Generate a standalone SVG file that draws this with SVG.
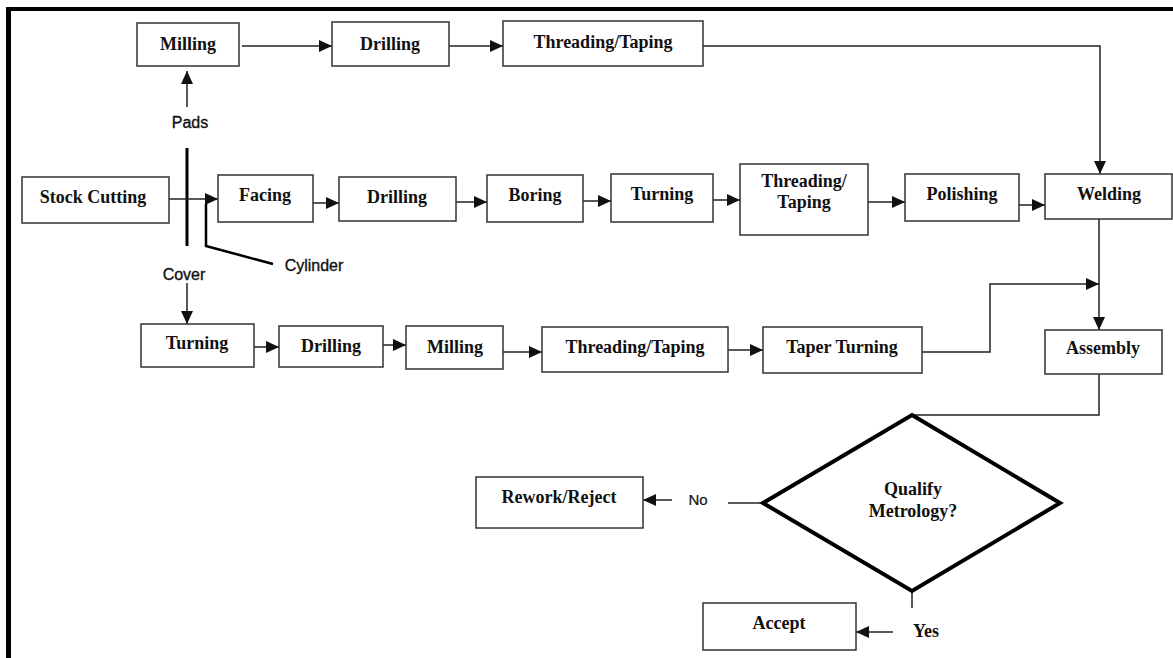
<svg xmlns="http://www.w3.org/2000/svg" width="1173" height="658" viewBox="0 0 1173 658">
<defs>
<marker id="ah" markerUnits="userSpaceOnUse" markerWidth="14" markerHeight="12" refX="13" refY="6" orient="auto">
<path d="M0,0 L13,6 L0,12 z" fill="#111"/>
</marker>
<style>
.box{fill:#fff;stroke:#333;stroke-width:1.5}
.t{font-family:"Liberation Serif","Times New Roman",serif;font-weight:bold;font-size:18px;fill:#111;text-anchor:middle}
.s{font-family:"Liberation Sans",Arial,sans-serif;font-size:16px;fill:#111;stroke:#111;stroke-width:0.35;text-anchor:middle}
.c{fill:none;stroke:#222;stroke-width:1.5}
.a{fill:none;stroke:#222;stroke-width:1.5;marker-end:url(#ah)}
</style>
</defs>
<rect width="1173" height="658" fill="#fff"/>
<g id="frame">
<rect x="6" y="7" width="1167" height="4" fill="#000"/>
<rect x="6" y="7" width="5" height="651" fill="#000"/>
</g>
<g id="connectors">
<line class="a" x1="242" y1="46" x2="332" y2="46"/>
<line class="a" x1="449" y1="46" x2="503" y2="46"/>
<polyline class="a" points="703,46 1100,46 1100,174"/>
<line class="a" x1="187" y1="107" x2="187" y2="71"/>
<line x1="187" y1="148" x2="187" y2="246" stroke="#000" stroke-width="3"/>
<line class="a" x1="169" y1="199" x2="218" y2="199"/>
<polyline points="273,264 206,246 206,204" fill="none" stroke="#000" stroke-width="2.5"/>
<line class="a" x1="187" y1="283" x2="187" y2="324"/>
<line class="a" x1="313" y1="203" x2="339" y2="203"/>
<line class="a" x1="456" y1="202" x2="487" y2="202"/>
<line class="a" x1="583" y1="201" x2="611" y2="201"/>
<line class="a" x1="713" y1="200" x2="740" y2="200"/>
<line class="a" x1="868" y1="202" x2="905" y2="202"/>
<line class="a" x1="1019" y1="205" x2="1045" y2="205"/>
<line class="a" x1="1099" y1="219" x2="1099" y2="330"/>
<line class="a" x1="254" y1="347" x2="279" y2="347"/>
<line class="a" x1="383" y1="345" x2="406" y2="345"/>
<line class="a" x1="503" y1="352" x2="542" y2="352"/>
<line class="a" x1="728" y1="350" x2="763" y2="350"/>
<polyline class="a" points="922,352 990,352 990,284 1099,284"/>
<polyline class="c" points="1099,374 1099,415 912,415"/>
<line class="c" x1="763" y1="503" x2="728" y2="503"/>
<line class="a" x1="672" y1="500" x2="643" y2="500"/>
<line class="c" x1="912" y1="591" x2="912" y2="608"/>
<line class="a" x1="893" y1="632" x2="856" y2="632"/>
</g>
<g id="labels">
<text class="s" x="190" y="128">Pads</text>
<text class="s" x="184" y="280">Cover</text>
<text class="s" x="314" y="271">Cylinder</text>
<text class="s" x="698" y="505" style="font-size:15px;stroke-width:0.2">No</text>
<text class="t" x="926" y="637">Yes</text>
</g>
<g id="milling-top"><rect class="box" x="137" y="23" width="102" height="43"/><text class="t" x="188" y="50">Milling</text></g>
<g id="drilling-top"><rect class="box" x="332" y="22" width="117" height="44"/><text class="t" x="390" y="50">Drilling</text></g>
<g id="threading-top"><rect class="box" x="503" y="21" width="200" height="45"/><text class="t" x="603" y="48">Threading/Taping</text></g>
<g id="stock-cutting"><rect class="box" x="22" y="177" width="147" height="46"/><text class="t" x="93" y="203">Stock Cutting</text></g>
<g id="facing"><rect class="box" x="218" y="175" width="95" height="47"/><text class="t" x="265" y="201">Facing</text></g>
<g id="drilling-mid"><rect class="box" x="339" y="177" width="117" height="44"/><text class="t" x="397" y="203">Drilling</text></g>
<g id="boring"><rect class="box" x="487" y="175" width="96" height="47"/><text class="t" x="535" y="201">Boring</text></g>
<g id="turning-mid"><rect class="box" x="611" y="174" width="102" height="48"/><text class="t" x="662" y="200">Turning</text></g>
<g id="threading-mid"><rect class="box" x="740" y="164" width="128" height="71"/><text class="t" x="804" y="187">Threading/</text><text class="t" x="804" y="208">Taping</text></g>
<g id="polishing"><rect class="box" x="905" y="174" width="114" height="47"/><text class="t" x="962" y="200">Polishing</text></g>
<g id="welding"><rect class="box" x="1045" y="174" width="127" height="45"/><text class="t" x="1109" y="200">Welding</text></g>
<g id="turning-bot"><rect class="box" x="141" y="324" width="113" height="43"/><text class="t" x="197" y="349">Turning</text></g>
<g id="drilling-bot"><rect class="box" x="279" y="326" width="104" height="41"/><text class="t" x="331" y="352">Drilling</text></g>
<g id="milling-bot"><rect class="box" x="406" y="326" width="97" height="43"/><text class="t" x="455" y="353">Milling</text></g>
<g id="threading-bot"><rect class="box" x="542" y="327" width="186" height="45"/><text class="t" x="635" y="353">Threading/Taping</text></g>
<g id="taper-turning"><rect class="box" x="763" y="327" width="159" height="46"/><text class="t" x="842" y="353">Taper Turning</text></g>
<g id="assembly"><rect class="box" x="1045" y="330" width="117" height="44"/><text class="t" x="1103" y="354">Assembly</text></g>
<g id="qualify"><polygon points="912,415 1060,503 912,591 763,503" fill="#fff" stroke="#000" stroke-width="4" stroke-linejoin="miter"/><text class="t" x="913" y="495">Qualify</text><text class="t" x="913" y="517">Metrology?</text></g>
<g id="rework"><rect class="box" x="476" y="477" width="167" height="51"/><text class="t" x="559" y="503">Rework/Reject</text></g>
<g id="accept"><rect class="box" x="703" y="603" width="153" height="47"/><text class="t" x="779" y="629">Accept</text></g>
</svg>
